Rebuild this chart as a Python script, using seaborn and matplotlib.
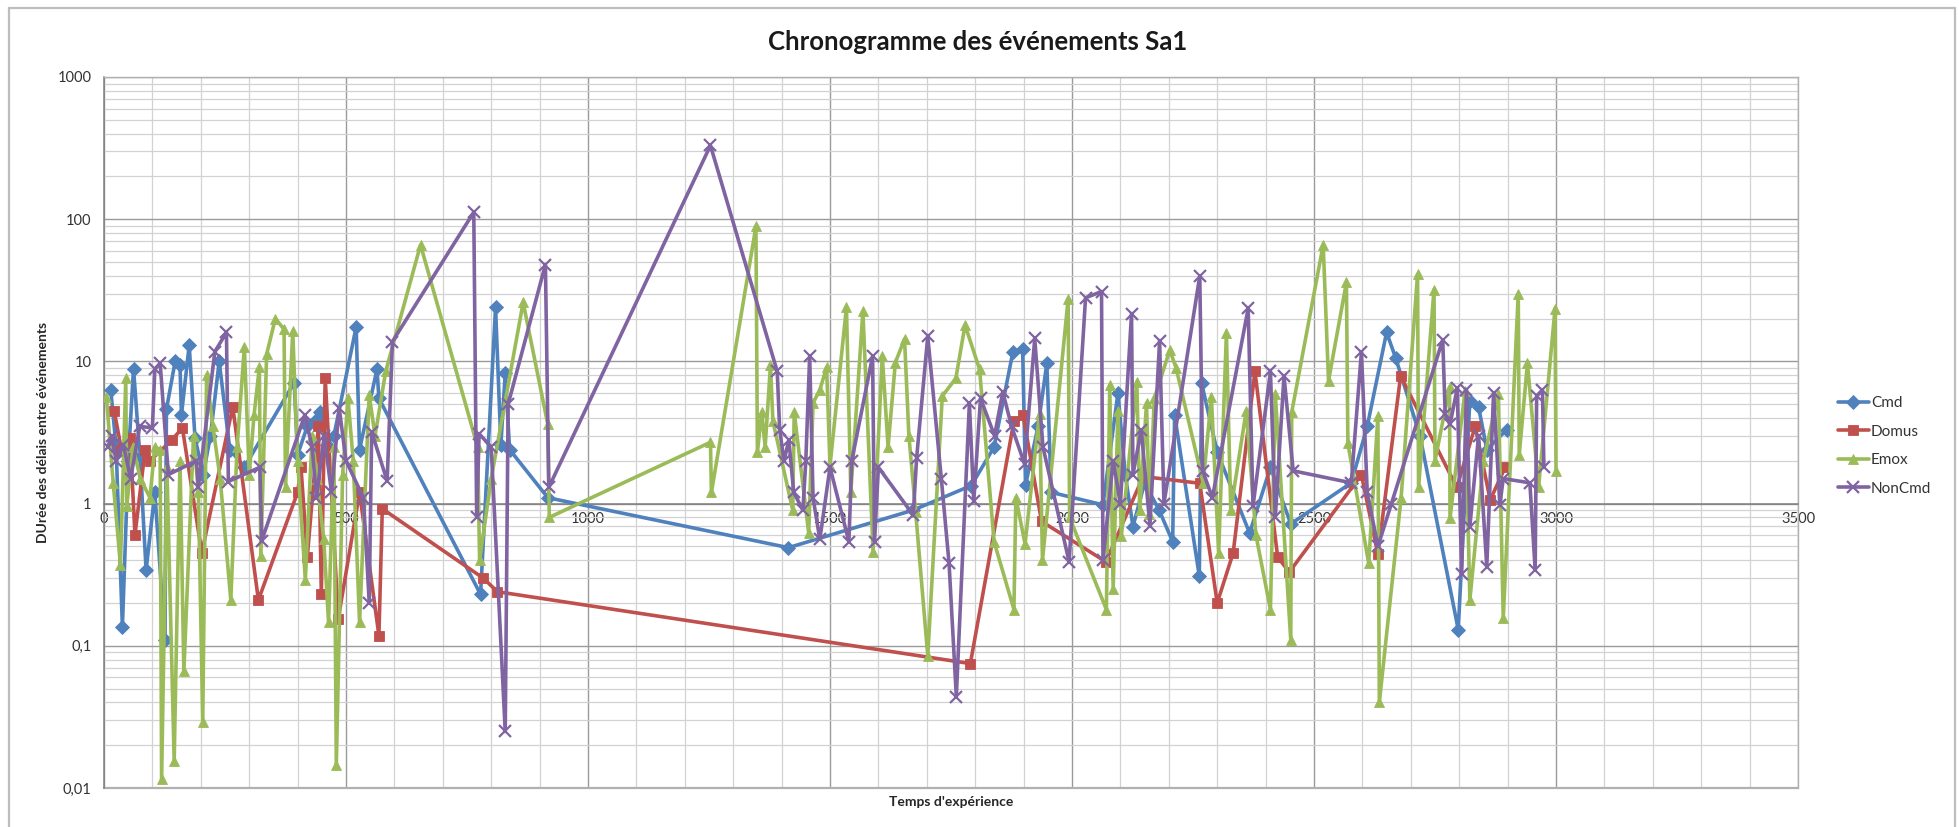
import matplotlib
matplotlib.use("Agg")
import matplotlib.pyplot as plt
from matplotlib.patches import Rectangle
from matplotlib.ticker import FixedLocator, FuncFormatter, MultipleLocator, LogLocator, NullFormatter
import numpy as np
import pandas as pd
import seaborn as sns

# ---- event series: time (s) and delay between events ----
cmd_t = [14, 25, 38, 50, 61, 74, 87, 105, 126, 129, 147, 157, 160, 176, 188, 205, 220, 238, 260, 290,
         393, 400, 420, 435, 447, 460, 475, 521, 528, 564, 568, 778, 809, 820, 829, 838, 917, 1414, 1672, 1792,
         1839, 1878, 1898, 1904, 1930, 1948, 1957, 2064, 2095, 2110, 2126, 2150, 2180, 2208, 2212, 2263, 2268, 2300, 2367, 2410,
         2452, 2577, 2610, 2650, 2669, 2719, 2798, 2822, 2840, 2857, 2898]
cmd_v = [6.3, 2.5, 0.136, 2.0, 8.9, 2.2, 0.34, 1.2, 0.11, 4.6, 10, 9.4, 4.2, 13, 2.9, 1.6, 3.0, 10, 2.4, 1.8,
         7.1, 2.2, 3.5, 3.8, 4.4, 2.6, 3.0, 17.5, 2.4, 8.8, 5.5, 0.23, 24, 2.6, 8.3, 2.4, 1.1, 0.49, 0.9, 1.34,
         2.5, 11.7, 12.3, 1.35, 3.5, 9.7, 1.2, 0.98, 6.0, 1.6, 0.69, 1.4, 0.9, 0.54, 4.2, 0.31, 7.0, 2.3, 0.62, 1.8,
         0.72, 1.4, 3.5, 16, 10.5, 3.0, 0.13, 5.3, 4.8, 2.4, 3.3]

dom_t = [21, 36, 54, 64, 85, 95, 140, 162, 202, 266, 319, 400, 407, 420, 443, 449, 457, 484, 528, 568,
         575, 783, 813, 1790, 1880, 1899, 1937, 2070, 2147, 2264, 2300, 2333, 2378, 2425, 2449, 2598, 2632, 2679, 2795, 2833,
         2864, 2895]
dom_v = [4.5, 2.4, 2.9, 0.6, 2.4, 2.0, 2.8, 3.4, 0.45, 4.8, 0.21, 1.2, 1.8, 0.42, 3.5, 0.23, 7.7, 0.155, 1.2, 0.118,
         0.92, 0.30, 0.24, 0.075, 3.8, 4.2, 0.75, 0.39, 1.55, 1.39, 0.20, 0.45, 8.5, 0.42, 0.33, 1.6, 0.44, 7.9, 1.3, 3.5,
         1.06, 1.8]

emx_t = [5, 19, 34, 45, 47, 60, 75, 95, 105, 116, 119, 130, 145, 157, 165, 185, 195, 204, 212, 225,
         240, 262, 275, 290, 300, 310, 321, 324, 336, 354, 372, 375, 390, 400, 416, 430, 440, 454, 464, 475,
         480, 493, 504, 515, 528, 548, 560, 582, 654, 772, 776, 800, 866, 917, 920, 1253, 1255, 1347, 1350, 1359,
         1366, 1377, 1382, 1423, 1426, 1456, 1465, 1479, 1493, 1500, 1534, 1543, 1568, 1589, 1608, 1620, 1635, 1654, 1663, 1677,
         1702, 1732, 1760, 1779, 1809, 1839, 1880, 1884, 1903, 1933, 1939, 1992, 1995, 2071, 2078, 2085, 2095, 2102, 2134, 2140,
         2154, 2160, 2170, 2202, 2215, 2271, 2288, 2303, 2319, 2328, 2360, 2380, 2410, 2420, 2452, 2454, 2519, 2530, 2567, 2570,
         2613, 2632, 2635, 2680, 2714, 2716, 2748, 2750, 2780, 2781, 2812, 2822, 2850, 2881, 2891, 2922, 2924, 2941, 2964, 2998,
         3000]
emx_v = [5.6, 1.4, 0.37, 7.6, 0.96, 2.5, 1.5, 1.1, 2.5, 2.4, 0.0115, 1.8, 0.0155, 2.0, 0.066, 3.0, 1.2, 0.029, 8.0, 3.5,
         1.5, 0.21, 2.5, 12.6, 1.6, 4.2, 9.1, 0.43, 11.2, 20, 16.8, 1.3, 16.3, 2.0, 0.29, 3.0, 1.5, 0.56, 0.146, 2.5,
         0.0145, 1.6, 5.5, 2.0, 0.146, 5.8, 3.0, 8.5, 66, 2.5, 0.4, 1.5, 26, 3.6, 0.8, 2.7, 1.2, 89, 2.3, 4.4,
         2.5, 9.4, 3.8, 0.9, 4.4, 0.62, 5.1, 6.3, 9.1, 1.85, 24, 1.2, 22.5, 0.46, 11, 2.5, 9.8, 14.4, 3.0, 0.87,
         0.085, 5.7, 7.6, 18, 8.8, 0.54, 0.18, 1.1, 0.52, 4.3, 0.40, 27.5, 0.8, 0.18, 6.8, 0.25, 4.5, 0.59, 7.2, 0.9,
         5.1, 0.85, 5.5, 12, 9.0, 1.4, 5.6, 0.45, 15.8, 0.9, 4.5, 0.6, 0.18, 5.9, 0.11, 4.4, 66, 7.3, 36, 2.66,
         0.38, 4.1, 0.04, 1.1, 41, 1.3, 32, 2.0, 6.6, 0.79, 6.2, 0.21, 2.0, 5.9, 0.156, 30, 2.2, 9.7, 1.3, 23.5,
         1.7]

nc_t = [8, 16, 25, 40, 55, 74, 100, 105, 116, 133, 191, 195, 229, 253, 257, 322, 326, 415, 430, 439,
        455, 470, 486, 500, 536, 548, 553, 585, 596, 764, 770, 775, 800, 829, 835, 912, 919, 1253, 1391, 1396,
        1405, 1415, 1425, 1444, 1450, 1458, 1465, 1479, 1500, 1539, 1545, 1588, 1592, 1600, 1672, 1679, 1702, 1730, 1746, 1761,
        1788, 1797, 1811, 1840, 1857, 1875, 1902, 1923, 1940, 1994, 2028, 2061, 2064, 2085, 2100, 2123, 2126, 2143, 2161, 2181,
        2190, 2264, 2270, 2290, 2364, 2374, 2410, 2420, 2438, 2457, 2577, 2598, 2610, 2632, 2660, 2766, 2771, 2781, 2796, 2805,
        2815, 2822, 2840, 2857, 2871, 2884, 2891, 2946, 2957, 2960, 2972, 2975]
nc_v = [2.5, 3.0, 2.0, 2.6, 1.5, 3.5, 3.4, 8.8, 9.7, 1.6, 2.0, 1.3, 11.7, 16, 1.43, 1.8, 0.55, 4.2, 2.5, 1.1,
        3.0, 1.2, 4.7, 2.0, 1.1, 0.20, 3.2, 1.44, 13.8, 112, 0.8, 3.1, 2.5, 0.025, 5.0, 48, 1.3, 330, 8.5, 3.3,
        2.0, 2.8, 1.2, 0.9, 2.0, 10.9, 1.1, 0.56, 1.8, 0.54, 2.0, 10.9, 0.54, 1.8, 0.83, 2.1, 15, 1.5, 0.38, 0.044,
        5.1, 1.04, 5.5, 3.0, 6.1, 3.5, 1.9, 14.5, 2.5, 0.39, 28, 31, 0.40, 2.0, 1.0, 21.7, 1.6, 3.3, 0.7, 14,
        1.0, 40, 1.7, 1.1, 23.6, 0.96, 8.5, 0.8, 7.9, 1.7, 1.4, 11.7, 1.2, 0.5, 1.0, 14.2, 4.3, 3.6, 6.5, 0.32,
        6.3, 0.69, 3.0, 0.36, 6.0, 0.98, 1.5, 1.4, 0.34, 5.7, 6.3, 1.8]

series_names = ["Cmd", "Domus", "Emox", "NonCmd"]
series_colors = ["#4F81BD", "#C0504D", "#9BBB59", "#8064A2"]
series_markers = ["D", "s", "^", "x"]

title_text = "Chronogramme des événements Sa1"
xlabel_text = "Temps d'expérience"
ylabel_text = "DUrée des délais entre événements"
ytick_values = [0.01, 0.1, 1, 10, 100, 1000]
ytick_labels = ["0,01", "0,1", "1", "10", "100", "1000"]

frames = []
for name, t, v in zip(series_names, [cmd_t, dom_t, emx_t, nc_t], [cmd_v, dom_v, emx_v, nc_v]):
    frames.append(pd.DataFrame({"temps": t, "duree": v, "serie": name}))
df = pd.concat(frames, ignore_index=True)

sns.set_theme(style="white")
plt.rcParams["font.family"] = ["Lato", "DejaVu Sans"]

W, H = 1959, 827
fig = plt.figure(figsize=(W / 100, H / 100), dpi=100)
fig.patch.set_facecolor("white")

# outer chart frame
fig.add_artist(Rectangle((9 / W, -0.01), (1955 - 9) / W, 1 - 8 / H + 0.01,
                         transform=fig.transFigure, fill=False,
                         edgecolor="#bdbdbd", lw=1.6))

ax = fig.add_axes([104 / W, 1 - 788 / H, (1798 - 104) / W, (788 - 77) / H])
ax.set_yscale("log")
ax.set_xlim(0, 3500)
ax.set_ylim(0.01, 1000)

color_map = dict(zip(series_names, series_colors))
marker_map = dict(zip(series_names, series_markers))

sns.lineplot(data=df, x="temps", y="duree", hue="serie",
             hue_order=series_names, palette=color_map,
             estimator=None, sort=False, linewidth=2.6,
             ax=ax, legend=True, zorder=3)

# markers per series (filled shapes and the line-art cross)
for line, name in zip(ax.lines, series_names):
    line.set_marker(marker_map[name])
    line.set_markerfacecolor(color_map[name])
    line.set_markeredgecolor(color_map[name])
    if marker_map[name] == "x":
        line.set_markersize(8)
        line.set_markeredgewidth(1.6)
    else:
        line.set_markersize(7.5)
        line.set_markeredgewidth(0.6)

# grid
ax.xaxis.set_major_locator(MultipleLocator(500))
ax.xaxis.set_minor_locator(MultipleLocator(100))
ax.yaxis.set_major_locator(FixedLocator(ytick_values))
ax.yaxis.set_minor_locator(LogLocator(base=10, subs=np.arange(2, 10)))
ax.yaxis.set_minor_formatter(NullFormatter())
ax.yaxis.set_major_formatter(FuncFormatter(lambda v, p: dict(zip(ytick_values, ytick_labels)).get(v, "")))
ax.xaxis.set_major_formatter(FuncFormatter(lambda v, p: f"{int(v)}"))
ax.grid(which="major", color="#9a9a9a", lw=1.0, zorder=0)
ax.grid(which="minor", color="#d2d2d2", lw=0.9, zorder=0)
ax.set_axisbelow(True)

# horizontal axis crosses at 1
ax.spines["bottom"].set_position(("data", 1))
ax.spines["bottom"].set_color("#7f7f7f")
ax.spines["bottom"].set_linewidth(1.1)
ax.spines["left"].set_color("#7f7f7f")
ax.spines["left"].set_linewidth(1.1)
for s in ("top", "right"):
    ax.spines[s].set_color("#b0b0b0")
    ax.spines[s].set_linewidth(1.0)
ax.axhline(0.01, color="#b0b0b0", lw=1.6, clip_on=False, zorder=1)

ax.tick_params(axis="x", which="both", length=0, pad=6, labelsize=10.5, labelcolor="#333333")
ax.tick_params(axis="y", which="major", length=5, width=1, color="#7f7f7f", direction="out",
               pad=4, labelsize=10.5, labelcolor="#333333")
ax.tick_params(axis="y", which="minor", length=0)

ax.set_xlabel("")
ax.set_ylabel("")
fig.text(951 / W, 1 - 802 / H, xlabel_text, ha="center", va="center",
         fontsize=10, fontweight="bold", color="#262626")
fig.text(43 / W, 1 - 432 / H, ylabel_text, ha="center", va="center", rotation=90,
         fontsize=10, fontweight="bold", color="#262626")
fig.text(978 / W, 1 - 42 / H, title_text, ha="center", va="center",
         fontsize=18.5, fontweight="bold", color="#1a1a1a")

handles, labels = ax.get_legend_handles_labels()
ax.get_legend().remove()
for h, name in zip(handles, labels):
    h.set_marker(marker_map[name])
    h.set_markerfacecolor(color_map[name])
    h.set_markeredgecolor(color_map[name])
    h.set_markersize(7.5 if marker_map[name] != "x" else 8)
    h.set_markeredgewidth(0.6 if marker_map[name] != "x" else 1.6)
fig.legend(handles, labels, loc="center left", bbox_to_anchor=(1838 / W, 1 - 446 / H),
           frameon=False, fontsize=11, handlelength=2.0, handletextpad=0.15,
           labelspacing=0.95, borderpad=0, borderaxespad=0, labelcolor="#333333")

fig.savefig("out.png", dpi=100, facecolor="white")
